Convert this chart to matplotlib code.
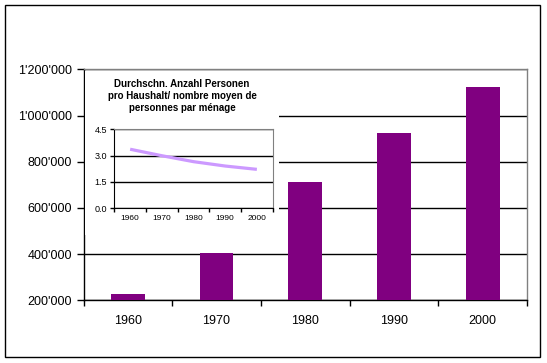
import matplotlib
matplotlib.use("Agg")
import matplotlib.pyplot as plt
from matplotlib.ticker import FuncFormatter, FixedLocator
from matplotlib.patches import Rectangle

plt.rcParams['font.family'] = ['Liberation Sans', 'DejaVu Sans']

# Data
years = ['1960', '1970', '1980', '1990', '2000']
households = [226000, 406000, 710000, 923000, 1122000]
persons_per_household = [3.36, 2.99, 2.65, 2.40, 2.21]
main_yticks = [200000, 400000, 600000, 800000, 1000000, 1200000]
inset_yticks = [0.0, 1.5, 3.0, 4.5]
inset_title = "Durchschn. Anzahl Personen\npro Haushalt/ nombre moyen de\npersonnes par ménage"

W, H = 547, 363
fig = plt.figure(figsize=(W / 100, H / 100), dpi=100)
fig.patch.set_facecolor('white')

def fx(px):
    return px / W

def fy(py):
    return 1 - py / H

# Outer frame
fig.patches.append(Rectangle((fx(5), fy(357)), fx(540) - fx(5), fy(5) - fy(357),
                             transform=fig.transFigure, fill=False,
                             edgecolor='black', linewidth=1.0))

# Main axes
L, R, T, B = 83.5, 527, 69.3, 300.3
ax = fig.add_axes([fx(L), fy(B), fx(R) - fx(L), fy(T) - fy(B)])
x = list(range(len(years)))
ax.bar(x, households, width=0.38, color='#800080', zorder=3)
ax.set_xlim(-0.5, len(years) - 0.5)
ax.set_ylim(main_yticks[0], main_yticks[-1])
ax.set_yticks(main_yticks)
ax.yaxis.set_major_formatter(FuncFormatter(lambda v, p: f"{int(v):,}".replace(',', "'")))
ax.xaxis.set_major_locator(FixedLocator([i - 0.5 for i in range(len(years) + 1)]))
ax.xaxis.set_minor_locator(FixedLocator(x))
ax.set_xticklabels([], minor=False)
ax.set_xticklabels(years, minor=True)
ax.tick_params(axis='x', which='major', direction='out', length=4, width=1, color='black')
ax.tick_params(axis='x', which='minor', length=0, pad=10.5, labelsize=9)
ax.tick_params(axis='y', direction='out', length=5, width=1, pad=3.5, labelsize=9)
ax.grid(axis='y', color='black', linewidth=1.0, zorder=1)
ax.set_axisbelow(True)
for s in ['left', 'bottom']:
    ax.spines[s].set_color('black')
    ax.spines[s].set_linewidth(1.0)
for s in ['top', 'right']:
    ax.spines[s].set_color('#808080')
    ax.spines[s].set_linewidth(1.0)

# White chart area of inset
bg = fig.add_axes([fx(84.5), fy(235), fx(279) - fx(84.5), fy(71) - fy(235)], zorder=1)
bg.set_facecolor('white')
bg.set_xticks([])
bg.set_yticks([])
for s in bg.spines.values():
    s.set_visible(False)

# Inset title
fig.text(fx(182), fy(96), inset_title, ha='center', va='center', multialignment='center',
         fontsize=7, fontweight='bold', linespacing=1.2, zorder=5)

# Inset plot
iL, iR, iT, iB = 114.3, 272.7, 129.3, 208
ia = fig.add_axes([fx(iL), fy(iB), fx(iR) - fx(iL), fy(iT) - fy(iB)], zorder=2)
ia.plot(x, persons_per_household, color='#CC99FF', linewidth=2.3, solid_capstyle='butt', zorder=3)
ia.set_xlim(-0.5, len(years) - 0.5)
ia.set_ylim(inset_yticks[0], inset_yticks[-1])
ia.set_yticks(inset_yticks)
ia.yaxis.set_major_formatter(FuncFormatter(lambda v, p: f"{v:.1f}"))
ia.xaxis.set_major_locator(FixedLocator([i - 0.5 for i in range(len(years) + 1)]))
ia.xaxis.set_minor_locator(FixedLocator(x))
ia.set_xticklabels([], minor=False)
ia.set_xticklabels(years, minor=True)
ia.tick_params(axis='x', which='major', direction='out', length=2.6, width=1)
ia.tick_params(axis='x', which='minor', length=0, pad=5.0, labelsize=6)
ia.tick_params(axis='y', direction='out', length=2.6, width=1, pad=2.5, labelsize=6.5)
ia.grid(axis='y', color='black', linewidth=1.0, zorder=1)
ia.set_axisbelow(True)
for s in ['left', 'bottom']:
    ia.spines[s].set_color('black')
for s in ['top', 'right']:
    ia.spines[s].set_color('#808080')

fig.savefig('out.png', dpi=100, facecolor='white')
